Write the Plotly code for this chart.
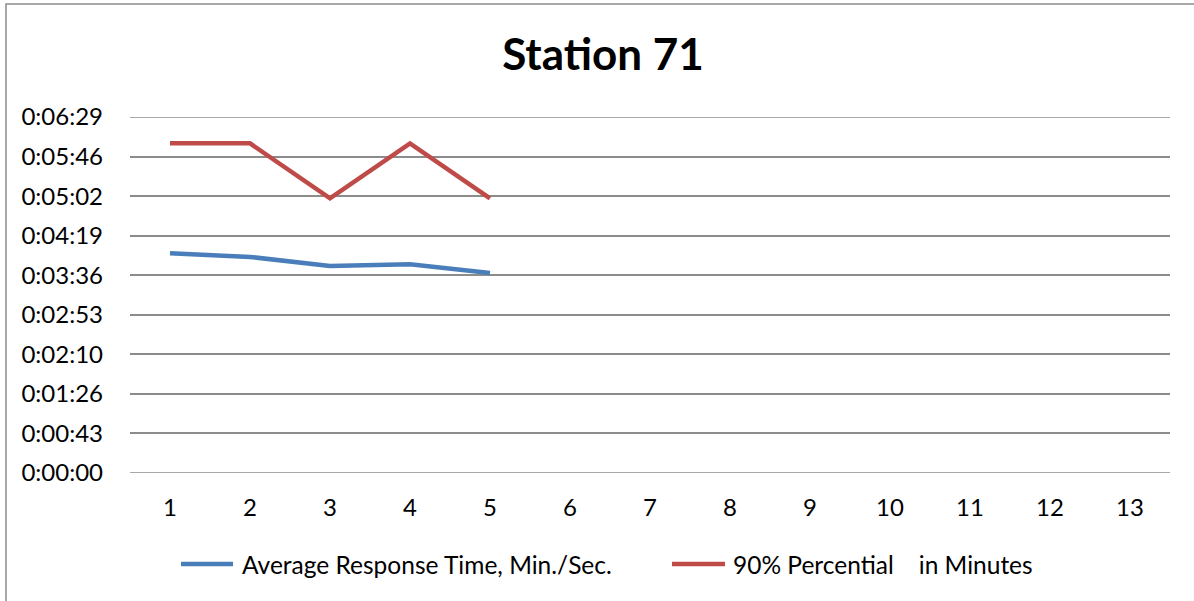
import plotly.graph_objects as go

categories = list(range(1, 14))
avg_response_sec = [240, 236, 226, 228, 218.5]
pct90_sec = [360, 360, 300, 360, 300]
tick_vals = [0, 43.2, 86.4, 129.6, 172.8, 216, 259.2, 302.4, 345.6, 388.8]
tick_text = ["0:00:00", "0:00:43", "0:01:26", "0:02:10", "0:02:53",
             "0:03:36", "0:04:19", "0:05:02", "0:05:46", "0:06:29"]
series_names = ["Average Response Time, Min./Sec.",
                "90% Percential\u00a0\u00a0\u00a0\u00a0in Minutes"]
series_colors = ["#4A7EBB", "#BE4B48"]

FONT = "Lato"
GRID = "#8c8c8c"
W, H = 1194, 601
L, R, T, B = 130, 1170, 117, 473
pw, ph = R - L, B - T

def px(x):
    return (x - L) / pw

def py(y):
    return (B - y) / ph

fig = go.Figure()
for vals, name, col in zip([avg_response_sec, pct90_sec], series_names, series_colors):
    fig.add_trace(go.Scatter(x=categories[:len(vals)], y=vals, mode="lines", name=name,
                             line=dict(color=col, width=4.5), showlegend=False,
                             hoverinfo="skip"))

# edge gridlines (plotly hides gridlines on the plot boundary)
for v in (tick_vals[0], tick_vals[-1]):
    fig.add_shape(type="line", xref="paper", yref="y", x0=0, x1=1, y0=v, y1=v,
                  line=dict(color=GRID, width=1.5), layer="below")

# outer chart border
fig.add_shape(type="rect", xref="paper", yref="paper",
              x0=px(6), x1=px(1205), y0=py(615), y1=py(4),
              line=dict(color=GRID, width=1.5), fillcolor="rgba(0,0,0,0)", layer="below")

# legend drawn manually
legend_items = [(181, 233, 240), (672, 725, 731)]
for (s0, s1, tx), name, col in zip(legend_items, series_names, series_colors):
    fig.add_shape(type="line", xref="paper", yref="paper",
                  x0=px(s0), x1=px(s1), y0=py(564), y1=py(564),
                  line=dict(color=col, width=4.5))
    fig.add_annotation(xref="paper", yref="paper", x=px(tx), y=py(564),
                       xanchor="left", yanchor="middle", text=name, showarrow=False,
                       font=dict(size=24.5, family=FONT, color="black"))

fig.update_layout(
    width=W, height=H,
    margin=dict(l=L, r=W - R, t=T, b=H - B),
    paper_bgcolor="white", plot_bgcolor="white",
    font=dict(family=FONT, color="black", size=24),
    title=dict(text="<b>Station 71</b>", x=603 / W, xanchor="center",
               y=1 - 55 / H, yanchor="middle", font=dict(size=44, family=FONT)),
    showlegend=False,
    xaxis=dict(range=[0.5, 13.5], tickmode="array", tickvals=categories,
               ticktext=[str(c) for c in categories], showgrid=False,
               showline=False, zeroline=False, ticks="", ticklabelstandoff=18,
               tickfont=dict(size=24), fixedrange=True, automargin=False),
    yaxis=dict(range=[0, 388.8], tickmode="array", tickvals=tick_vals, ticktext=tick_text,
               showgrid=True, gridcolor=GRID, gridwidth=1.5, zeroline=False,
               showline=False, ticks="", ticklabelstandoff=26,
               tickfont=dict(size=24), fixedrange=True, automargin=False),
)

fig.write_html("out.html", config={"displayModeBar": False},
               post_script="document.body.style.margin='0';")
